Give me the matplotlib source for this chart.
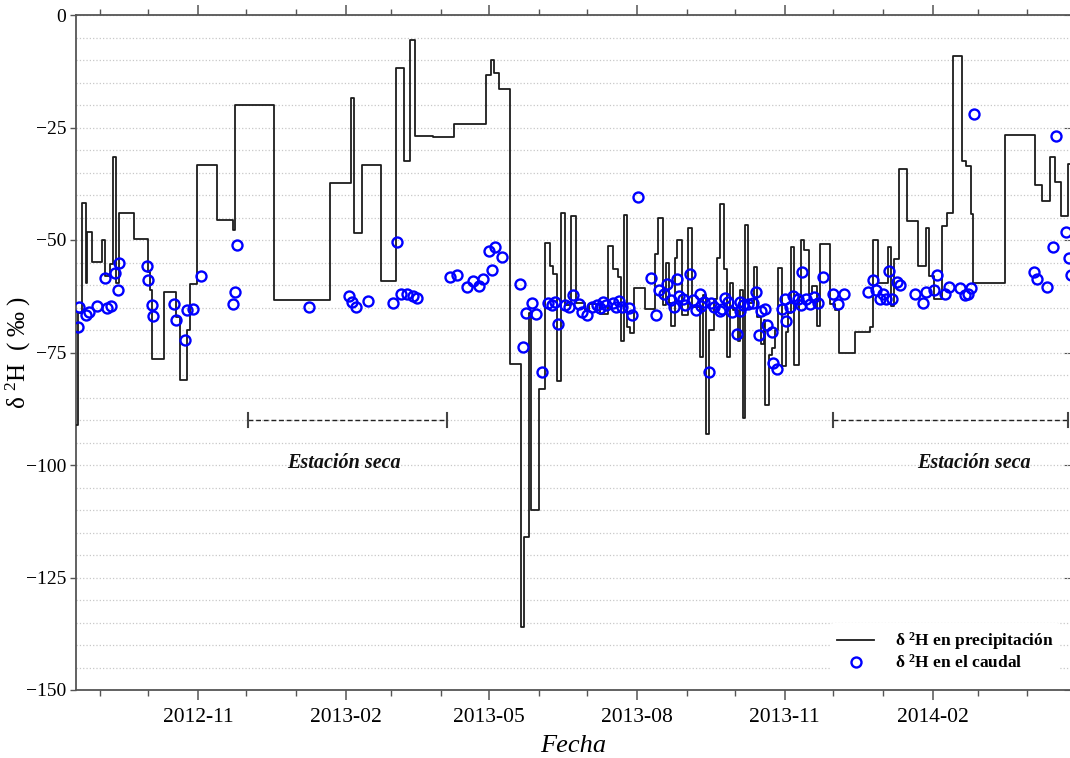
import matplotlib
matplotlib.use('Agg')
import matplotlib.pyplot as plt
import matplotlib.dates as mdates
import pandas as pd
import numpy as np

plt.rcParams['font.family'] = ['Liberation Serif', 'DejaVu Serif']
plt.rcParams['mathtext.fontset'] = 'custom'
plt.rcParams['mathtext.rm'] = 'Liberation Serif'
plt.rcParams['mathtext.it'] = 'Liberation Serif:italic'
plt.rcParams['mathtext.bf'] = 'Liberation Serif:bold'

# ---- precipitation d2H (step series, value holds from date to next date) ----
precip_dates = [
    '2012-08-16', '2012-08-18', '2012-08-21', '2012-08-23', '2012-08-24', '2012-08-27',
    '2012-09-02', '2012-09-04', '2012-09-07', '2012-09-09', '2012-09-11', '2012-09-13',
    '2012-09-22', '2012-10-01', '2012-10-02', '2012-10-03', '2012-10-11', '2012-10-18',
    '2012-10-21', '2012-10-25', '2012-10-27', '2012-10-31', '2012-11-13', '2012-11-23',
    '2012-11-24', '2012-12-18', '2013-01-22', '2013-02-04', '2013-02-06', '2013-02-11',
    '2013-02-23', '2013-03-04', '2013-03-09', '2013-03-13', '2013-03-16', '2013-03-27',
    '2013-04-09', '2013-04-29', '2013-05-02', '2013-05-04', '2013-05-07', '2013-05-14',
    '2013-05-21', '2013-05-23', '2013-05-26', '2013-05-27', '2013-06-01', '2013-06-05',
    '2013-06-08', '2013-06-10', '2013-06-12', '2013-06-15', '2013-06-17', '2013-06-21',
    '2013-06-24', '2013-06-30', '2013-07-02', '2013-07-09', '2013-07-14', '2013-07-17',
    '2013-07-20', '2013-07-22', '2013-07-24', '2013-07-26', '2013-07-28', '2013-07-30',
    '2013-08-06', '2013-08-12', '2013-08-14', '2013-08-17', '2013-08-19', '2013-08-21',
    '2013-08-22', '2013-08-25', '2013-08-26', '2013-08-29', '2013-09-02', '2013-09-04',
    '2013-09-09', '2013-09-11', '2013-09-13', '2013-09-15', '2013-09-18', '2013-09-20',
    '2013-09-22', '2013-09-24', '2013-09-26', '2013-09-28', '2013-09-30', '2013-10-03',
    '2013-10-04', '2013-10-06', '2013-10-07', '2013-10-09', '2013-10-13', '2013-10-15',
    '2013-10-17', '2013-10-19', '2013-10-20', '2013-10-22', '2013-10-24', '2013-10-26',
    '2013-10-28', '2013-10-30', '2013-11-02', '2013-11-03', '2013-11-05', '2013-11-07',
    '2013-11-10', '2013-11-11', '2013-11-13', '2013-11-16', '2013-11-18', '2013-11-21',
    '2013-11-23', '2013-11-29', '2013-12-02', '2013-12-05', '2013-12-15', '2013-12-24',
    '2013-12-26', '2013-12-29', '2014-01-04', '2014-01-06', '2014-01-08', '2014-01-11',
    '2014-01-16', '2014-01-23', '2014-01-28', '2014-01-30', '2014-02-02', '2014-02-07',
    '2014-02-10', '2014-02-14', '2014-02-19', '2014-02-22', '2014-02-25', '2014-02-26',
    '2014-03-18', '2014-04-06', '2014-04-10', '2014-04-15', '2014-04-18', '2014-04-22',
    '2014-04-26', '2014-04-30',
]
precip_values = [
    -91.0, -66.3, -41.7, -59.6, -48.2, -54.8,
    -50.0, -58.1, -55.4, -31.6, -59.6, -44.0,
    -49.8, -57.0, -61.1, -76.4, -61.5, -67.0,
    -81.1, -70.0, -59.8, -33.3, -45.6, -47.8,
    -20.1, -63.3, -37.4, -18.5, -48.4, -33.3,
    -59.1, -11.7, -32.4, -5.6, -26.8, -27.2,
    -24.3, -13.3, -9.9, -12.8, -16.5, -77.6,
    -135.9, -116.1, -66.3, -110.0, -83.0, -50.7,
    -55.7, -57.6, -81.3, -43.9, -64.4, -44.7,
    -64.1, -65.6, -64.2, -66.5, -51.3, -56.5,
    -58.2, -72.4, -44.4, -69.3, -70.6, -60.6,
    -65.4, -53.2, -45.2, -64.4, -55.2, -64.1,
    -69.0, -53.9, -49.9, -66.7, -47.3, -64.8,
    -76.1, -62.2, -93.1, -70.0, -63.2, -53.9,
    -41.9, -56.4, -75.9, -59.6, -65.6, -72.4,
    -61.1, -89.6, -46.7, -64.1, -56.1, -67.0,
    -73.0, -67.7, -86.7, -75.6, -74.0, -69.9,
    -56.3, -78.1, -70.5, -66.3, -51.5, -77.8,
    -62.6, -49.9, -52.2, -62.1, -60.3, -69.1,
    -50.8, -64.2, -65.6, -75.2, -70.4, -69.3,
    -50.0, -59.5, -51.5, -64.7, -54.3, -34.2,
    -45.8, -55.7, -47.4, -58.0, -63.0, -46.8,
    -43.9, -9.1, -32.4, -33.6, -44.2, -59.6,
    -26.7, -37.8, -41.3, -31.5, -37.0, -44.6,
    -33.2, -33.2,
]

# ---- stream flow d2H (points) ----
stream_dates = [
    '2012-08-18', '2012-08-19', '2012-08-23', '2012-08-25', '2012-08-30', '2012-09-04',
    '2012-09-05', '2012-09-08', '2012-09-10', '2012-09-12', '2012-09-13', '2012-09-30',
    '2012-10-01', '2012-10-03', '2012-10-04', '2012-10-17', '2012-10-18', '2012-10-24',
    '2012-10-25', '2012-10-29', '2012-11-03', '2012-11-23', '2012-11-24', '2012-11-25',
    '2013-01-09', '2013-02-03', '2013-02-05', '2013-02-07', '2013-02-15', '2013-03-02',
    '2013-03-05', '2013-03-07', '2013-03-11', '2013-03-15', '2013-03-17', '2013-04-07',
    '2013-04-11', '2013-04-17', '2013-04-21', '2013-04-25', '2013-04-27', '2013-05-01',
    '2013-05-03', '2013-05-05', '2013-05-09', '2013-05-20', '2013-05-22', '2013-05-24',
    '2013-05-28', '2013-05-30', '2013-06-03', '2013-06-07', '2013-06-09', '2013-06-11',
    '2013-06-13', '2013-06-17', '2013-06-20', '2013-06-22', '2013-06-26', '2013-06-28',
    '2013-07-01', '2013-07-04', '2013-07-07', '2013-07-09', '2013-07-11', '2013-07-13',
    '2013-07-17', '2013-07-19', '2013-07-21', '2013-07-23', '2013-07-27', '2013-07-29',
    '2013-08-02', '2013-08-10', '2013-08-13', '2013-08-15', '2013-08-18', '2013-08-20',
    '2013-08-22', '2013-08-24', '2013-08-26', '2013-08-27', '2013-08-30', '2013-08-31',
    '2013-09-03', '2013-09-05', '2013-09-07', '2013-09-09', '2013-09-10', '2013-09-12',
    '2013-09-15', '2013-09-16', '2013-09-18', '2013-09-22', '2013-09-23', '2013-09-25',
    '2013-09-27', '2013-09-29', '2013-10-02', '2013-10-04', '2013-10-04', '2013-10-06',
    '2013-10-09', '2013-10-12', '2013-10-14', '2013-10-16', '2013-10-17', '2013-10-20',
    '2013-10-21', '2013-10-24', '2013-10-25', '2013-10-27', '2013-10-30', '2013-11-01',
    '2013-11-02', '2013-11-04', '2013-11-06', '2013-11-09', '2013-11-11', '2013-11-12',
    '2013-11-14', '2013-11-17', '2013-11-19', '2013-11-22', '2013-11-25', '2013-12-01',
    '2013-12-04', '2013-12-08', '2013-12-23', '2013-12-26', '2013-12-28', '2013-12-30',
    '2014-01-01', '2014-01-03', '2014-01-05', '2014-01-07', '2014-01-10', '2014-01-12',
    '2014-01-21', '2014-01-26', '2014-01-28', '2014-02-02', '2014-02-04', '2014-02-09',
    '2014-02-11', '2014-02-18', '2014-02-21', '2014-02-23', '2014-02-25', '2014-02-27',
    '2014-04-05', '2014-04-07', '2014-04-13', '2014-04-17', '2014-04-19', '2014-04-25',
    '2014-04-27', '2014-04-28',
]
stream_values = [
    -69.3, -64.8, -66.7, -66.1, -64.6, -58.4,
    -65.2, -64.7, -57.3, -61.0, -55.0, -55.8,
    -58.9, -64.4, -66.8, -64.2, -67.8, -72.3,
    -65.6, -65.3, -57.9, -64.2, -61.6, -51.0,
    -64.8, -62.4, -63.7, -64.8, -63.5, -64.1,
    -50.5, -61.9, -62.0, -62.4, -62.8, -58.3,
    -57.8, -60.5, -59.1, -60.2, -58.7, -52.4,
    -56.7, -51.6, -53.7, -59.8, -73.7, -66.3,
    -64.1, -66.5, -79.3, -63.9, -64.4, -63.7,
    -68.6, -64.5, -64.8, -62.2, -64.3, -66.1,
    -66.7, -64.8, -64.5, -65.2, -63.7, -64.4,
    -63.9, -64.8, -63.6, -64.8, -65.0, -66.7,
    -40.5, -58.5, -66.7, -61.1, -62.1, -59.8,
    -63.3, -64.8, -58.7, -62.4, -63.0, -64.4,
    -57.6, -63.3, -65.6, -62.0, -64.7, -63.7,
    -79.3, -64.1, -64.8, -65.7, -65.3, -62.9,
    -63.8, -65.9, -70.8, -63.7, -65.7, -64.4,
    -64.2, -64.1, -61.5, -71.1, -65.7, -65.4,
    -68.9, -70.4, -77.3, -78.7, -65.4, -63.0,
    -67.9, -64.8, -62.4, -63.2, -64.4, -57.0,
    -63.0, -64.2, -62.7, -63.9, -58.3, -62.1,
    -64.2, -61.9, -61.6, -58.9, -61.0, -63.0,
    -62.0, -63.1, -56.9, -63.1, -59.3, -60.1,
    -61.9, -63.9, -61.5, -61.1, -57.8, -62.0,
    -60.4, -60.6, -62.2, -62.0, -60.6, -21.9,
    -57.0, -58.7, -60.4, -51.5, -26.9, -48.2,
    -54.1, -57.8,
]

# ---- dry season annotations ----
dry_start = ['2012-12-02', '2013-12-01']
dry_end = ['2013-04-05', '2014-04-26']
dry_level = -90
dry_label = 'Estación seca'
dry_label_dates = ['2013-01-31', '2014-02-27']
dry_label_level = -99.5

x_limits = ['2012-08-17', '2014-04-27 12:00']
y_ticks = [-150, -125, -100, -75, -50, -25, 0]

legend_precip = r'δ $^{\mathbf{2}}$H en precipitación'
legend_stream = r'δ $^{\mathbf{2}}$H en el caudal'

fig = plt.figure(figsize=(10.7, 7.58), dpi=100)
ax = fig.add_axes([76 / 1070, 68 / 758, 994 / 1070, 675 / 758])

ax.step(pd.to_datetime(precip_dates), precip_values, where='post',
        color='#1c1c1c', lw=1.3, label=legend_precip, zorder=3)
ax.plot(pd.to_datetime(stream_dates), stream_values, linestyle='none', marker='o',
        ms=7.2, mfc='none', mec='#0000ff', mew=1.7, label=legend_stream, zorder=4)

for s, e in zip(dry_start, dry_end):
    s, e = pd.Timestamp(s), pd.Timestamp(e)
    ax.plot([s, e], [dry_level, dry_level], color='#222222', lw=1.0,
            linestyle=(0, (3.5, 2)), zorder=3)
    for t in (s, e):
        ax.plot([t, t], [dry_level - 1.5, dry_level + 1.5], color='#444444', lw=1.5, zorder=3)
for d in dry_label_dates:
    ax.text(pd.Timestamp(d), dry_label_level, dry_label, ha='center', va='center',
            fontsize=14.5, fontweight='bold', fontstyle='italic', color='#111111')

ax.set_xlim(pd.Timestamp(x_limits[0]), pd.Timestamp(x_limits[1]))
ax.set_ylim(-150, 0)

ax.xaxis.set_major_locator(mdates.MonthLocator(bymonth=[2, 5, 8, 11]))
ax.xaxis.set_minor_locator(mdates.MonthLocator())
ax.xaxis.set_major_formatter(mdates.DateFormatter('%Y-%m'))
ax.set_yticks(y_ticks)
ax.set_yticks(np.arange(-150, 1, 5), minor=True)

spine_col = '#555555'
for side in ['left', 'bottom', 'top']:
    ax.spines[side].set_color(spine_col)
    ax.spines[side].set_linewidth(1.3)
ax.spines['right'].set_visible(False)

ax.tick_params(axis='x', which='major', direction='out', length=7, width=1.1,
               top=True, color=spine_col, labelsize=15.5, pad=6)
ax.tick_params(axis='x', which='minor', direction='out', length=4, width=1.0,
               top=True, color=spine_col)
ax.tick_params(axis='y', which='major', direction='out', length=4, width=1.0,
               color=spine_col, labelsize=14, pad=3)
ax.tick_params(axis='y', which='minor', length=0)

sec = ax.secondary_yaxis('right')
sec.set_yticks(y_ticks)
sec.tick_params(direction='in', length=4, color=spine_col, labelright=False)
sec.spines['right'].set_visible(False)

ax.yaxis.grid(True, which='both', linestyle=':', color='#c8c8c8', lw=0.9)
ax.set_axisbelow(True)

ax.set_xlabel('Fecha', fontsize=19, fontstyle='italic', labelpad=6)
ax.set_ylabel(r'δ $^{2}$H  ( ‰ )', fontsize=18)
ax.yaxis.set_label_coords(-0.043, 0.5)

leg = ax.legend(loc='lower right', bbox_to_anchor=(0.999, 0.004),
                prop={'weight': 'bold', 'size': 12.5}, frameon=True, framealpha=1,
                facecolor='white', edgecolor='none', handlelength=2.1,
                handletextpad=1.2, labelspacing=0.1, borderpad=0.4)

fig.savefig('out.png', dpi=100)
